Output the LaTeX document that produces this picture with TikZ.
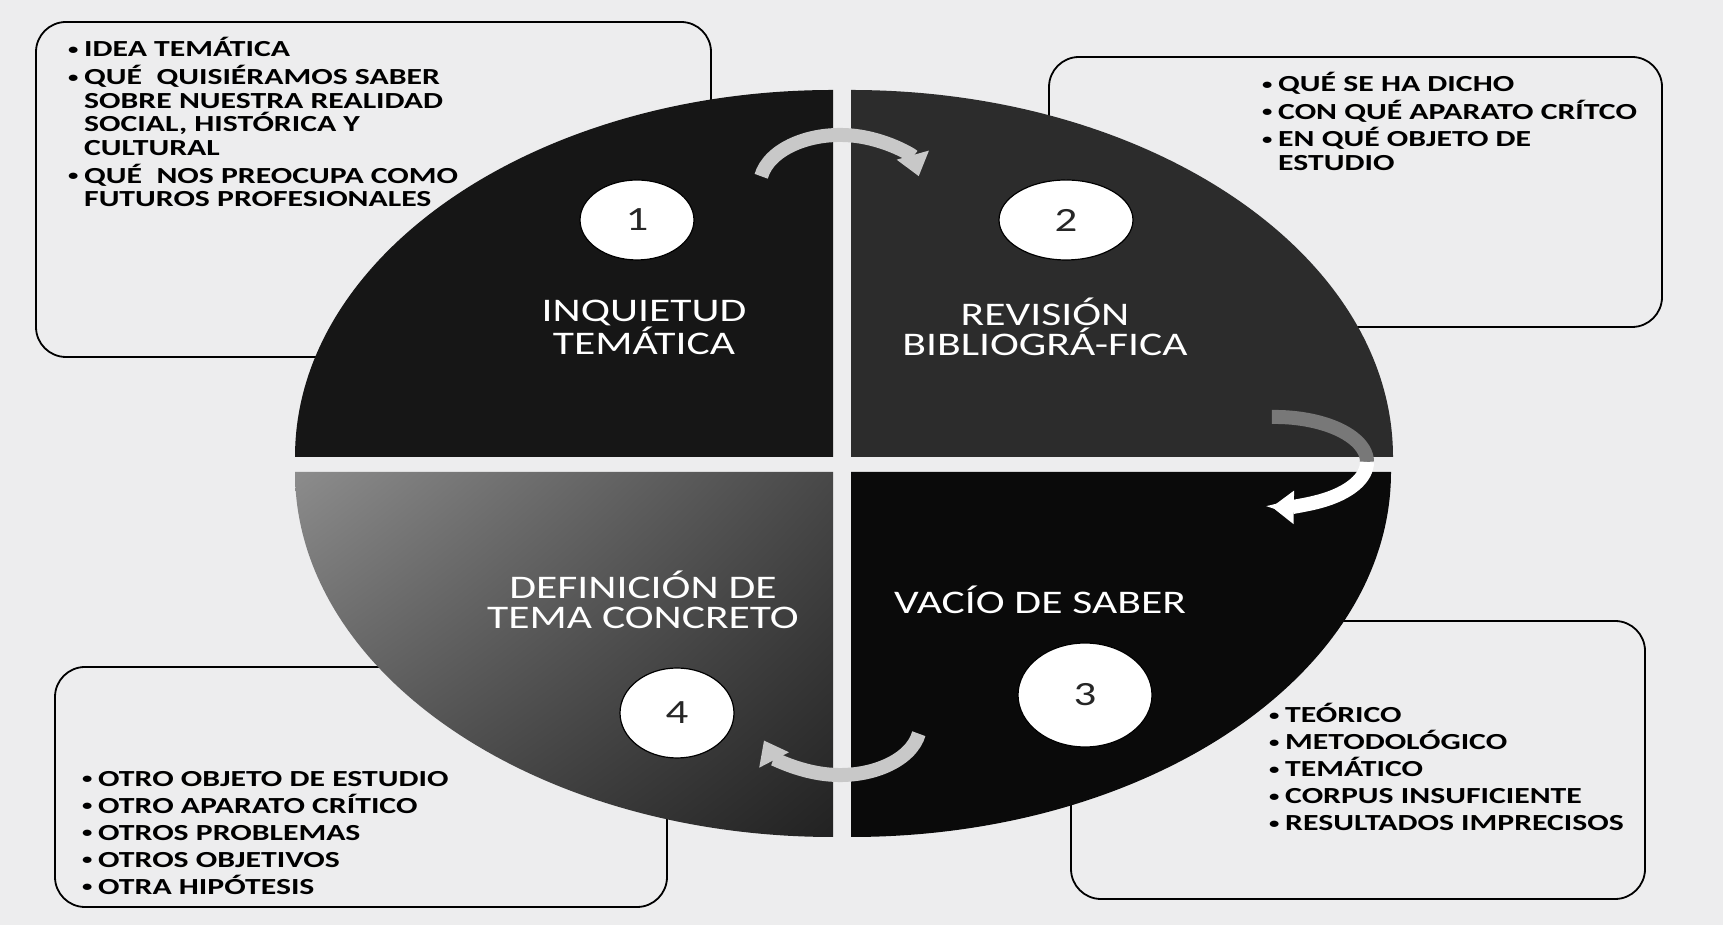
\documentclass[tikz,border=0pt]{standalone}
\usepackage{fontspec}
\newfontfamily\cfont[FakeStretch=1.32]{Carlito}
\newfontfamily\bfont[FakeStretch=1.38]{Carlito}
\usetikzlibrary{arrows.meta,shapes.geometric,shadings}

\definecolor{paper}{RGB}{237,237,238}
\definecolor{quadA}{RGB}{22,22,22}
\definecolor{quadB}{RGB}{44,44,44}
\definecolor{quadC}{RGB}{10,10,10}
\definecolor{quadDul}{RGB}{140,140,140}
\definecolor{quadDur}{RGB}{72,72,72}
\definecolor{quadDll}{RGB}{80,80,80}
\definecolor{quadDlr}{RGB}{34,34,34}
\definecolor{arrowgray}{RGB}{200,200,200}
\definecolor{arrowdark}{RGB}{120,120,120}

\newcommand\bul{\makebox[16pt][l]{\raisebox{2.5pt}{\fontsize{15}{15}\selectfont •}}}
\newcommand\ind{\hspace*{16pt}}

\tikzset{
  infobox/.style={draw=black, line width=1.8pt, rounded corners=30pt},
  boxtext/.style={inner sep=0pt, anchor=north west, align=left, font=\bfont\bfseries\fontsize{23}{23.5}\selectfont},
  quadtext/.style={text=white, align=center, font=\cfont\fontsize{33}{30}\selectfont},
  numdisc/.style={ellipse, fill=white, draw=black, line width=1.2pt, inner sep=0pt, text=black!85, font=\cfont\fontsize{34}{34}\selectfont},
  cyclearrow/.style={line width=14pt, -{Triangle[length=22pt,width=32pt]}}
}

\begin{document}
\begin{tikzpicture}[x=1pt,y=1pt]
    \fill[paper] (0,0) rectangle (1723,925);
    \useasboundingbox (0,0) rectangle (1723,925);

    % boxes sit behind the disc
    \draw[infobox] (36,568) rectangle (711,903);
    \draw[infobox] (1049,598) rectangle (1662,868);
    \draw[infobox] (1071,26) rectangle (1645,304);
    \draw[infobox] (55,18) rectangle (667,258);

    \coordinate (tl) at (833,468);
    \coordinate (tr) at (851,468);
    \coordinate (bl) at (833,453);
    \coordinate (br) at (851,453);

    \fill[quadA] (tl) -- ++(-538,0) arc[start angle=180, end angle=90, x radius=538, y radius=367] -- cycle;
    \fill[quadB] (tr) -- ++(0,367) arc[start angle=90, end angle=0, x radius=542, y radius=367] -- cycle;
    \fill[quadC] (br) -- ++(540,0) arc[start angle=0, end angle=-90, x radius=540, y radius=365] -- cycle;
    \shade[upper left=quadDul, upper right=quadDur, lower left=quadDll, lower right=quadDlr]
        (bl) -- ++(0,-365) arc[start angle=270, end angle=180, x radius=538, y radius=365] -- cycle;

    \foreach \n/\x/\y/\w/\h in {1/637/705/114/80, 2/1066/705/134/80, 3/1085/230/134/104, 4/677/212/114/90}
        \node[numdisc, minimum width=\w pt, minimum height=\h pt] (n\n) at (\x,\y) {\n};

    \node[quadtext] (q1) at (644,598) {INQUIETUD\\TEMÁTICA};
    \node[quadtext] (q2) at (1045,598) {REVISIÓN\\BIBLIOGRÁ-FICA};
    \node[quadtext] (q3) at (1040,325) {VACÍO DE SABER};
    \node[quadtext] (q4) at (643,325) {DEFINICIÓN DE\\TEMA CONCRETO};

    % cycle arrows
    \coordinate (a1) at (761.2,748.7);
    \coordinate (a2) at (1271.8,508);
    \coordinate (a2m) at (1367,463);
    \coordinate (a3) at (918.8,191.3);
    \draw[cyclearrow, arrowgray] (a1) arc[start angle=170, end angle=10, x radius=80, y radius=50];
    \draw[line width=14pt, arrowdark] (a2) arc[start angle=92, end angle=0, x radius=92, y radius=45];
    \draw[cyclearrow, white] (a2m) arc[start angle=0, end angle=-92, x radius=92, y radius=45];
    \draw[cyclearrow, arrowgray] (a3) arc[start angle=-10, end angle=-162, x radius=80, y radius=50];

    \node[boxtext] (t1) at (68,888) {\bul IDEA TEMÁTICA\\[4.5pt]
        \bul QUÉ~~QUISIÉRAMOS SABER\\ \ind SOBRE NUESTRA REALIDAD\\ \ind SOCIAL, HISTÓRICA Y\\ \ind CULTURAL\\[4.5pt]
        \bul QUÉ~~NOS PREOCUPA COMO\\ \ind FUTUROS PROFESIONALES};
    \node[boxtext] (t2) at (1262,853) {\bul QUÉ SE HA DICHO\\[4pt]
        \bul CON QUÉ APARATO CRÍTCO\\[4pt]
        \bul EN QUÉ OBJETO DE\\ \ind ESTUDIO};
    \node[boxtext] (t3) at (1269,222) {\bul TEÓRICO\\[3.5pt] \bul METODOLÓGICO\\[3.5pt] \bul TEMÁTICO\\[3.5pt]
        \bul CORPUS INSUFICIENTE\\[3.5pt] \bul RESULTADOS IMPRECISOS};
    \node[boxtext] (t4) at (82,154) {\bul OTRO OBJETO DE ESTUDIO\\[3.5pt] \bul OTRO APARATO CRÍTICO\\[3.5pt]
        \bul OTROS PROBLEMAS\\[3.5pt] \bul OTROS OBJETIVOS\\[3.5pt] \bul OTRA HIPÓTESIS};
\end{tikzpicture}
\end{document}
